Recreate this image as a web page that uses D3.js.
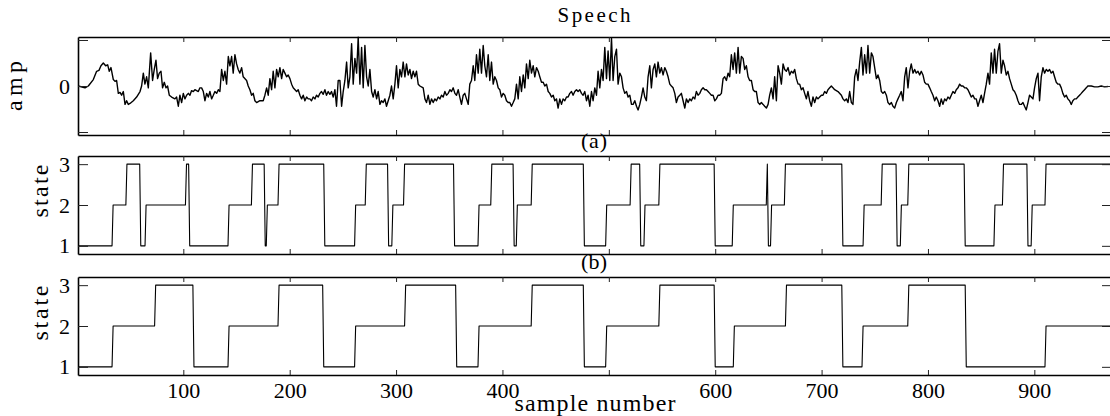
<!DOCTYPE html>
<html>
<head>
<meta charset="utf-8">
<script src="https://cdn.jsdelivr.net/npm/d3@7"></script>
<style>
  body { margin: 0; background: #fff; }
</style>
</head>
<body>
<svg id="chart" width="1110" height="416"></svg>
<script>
// speech waveform as [sample, amplitude]
var speech = [
  [1.3,0],[7.6,-0.04],[10.7,0],[15.4,0.14],[18.5,0.32],[20.7,0.34],[22.6,0.44],[24.8,0.5],[27,0.44],[28.9,0.46],
  [30.4,0.32],[32,0.4],[34.2,0.14],[35.8,0.1],[37.3,0.12],[38.9,-0.16],[40.5,-0.14],[42,-0.2],[43.6,-0.12],[45.2,-0.4],
  [46.7,-0.32],[48.3,-0.4],[49.9,-0.38],[53,-0.32],[56.1,-0.24],[59.3,-0.12],[60.8,0],[62.4,0.28],[63.9,0.04],[65.5,0.2],
  [67.1,-0.04],[69.3,0.72],[71.1,0.12],[72.7,0.36],[74.3,0.56],[75.8,0.16],[77.4,0.28],[79,0.32],[80.5,-0.04],[82.1,0.08],
  [83.7,-0.04],[85.2,0],[86.8,-0.2],[89,-0.24],[92.1,-0.28],[93.7,-0.24],[95.3,-0.44],[96.8,-0.2],[98.4,-0.36],[100,-0.16],
  [101.5,-0.28],[103.1,-0.2],[104.7,-0.16],[106.2,-0.2],[107.8,-0.1],[109.4,-0.12],[110.9,-0.08],[114.1,-0.12],[115.6,-0.04],[117.2,-0.04],
  [118.8,-0.12],[120.3,-0.32],[121.9,-0.16],[123.5,-0.24],[125,-0.12],[126.6,-0.28],[128.2,-0.2],[129.7,-0.12],[131.3,-0.16],[132.9,-0.08],
  [134.4,-0.12],[136,0.36],[137.6,0.12],[139.1,0.32],[140.7,0.04],[142.3,0.64],[143.8,0.44],[145.4,0.64],[146.9,0.28],[148.5,0.68],
  [150.1,0.48],[151.6,0.36],[153.2,0.28],[154.8,0.4],[156.3,0.2],[159.5,0.12],[161,0],[162.6,-0.08],[164.2,-0.2],[165.7,-0.16],
  [167.3,-0.32],[168.9,-0.36],[172,-0.32],[175.1,-0.32],[176.7,-0.2],[178.3,-0.04],[179.8,-0.2],[181.4,0.16],[183,-0.08],[184.5,0.32],
  [186.1,-0.04],[187.7,0.36],[189.2,0.2],[190.8,0.4],[192.4,0.16],[193.9,0.36],[195.5,0.28],[197.1,0.2],[198.6,0.24],[200.2,0.16],
  [201.8,0.04],[203.3,-0.04],[206.5,-0.12],[208,-0.08],[209.6,-0.2],[211.2,-0.28],[212.7,-0.2],[214.3,-0.32],[215.9,-0.24],[217.4,-0.28],
  [219,-0.28],[220.5,-0.32],[222.1,-0.24],[223.7,-0.28],[225.2,-0.2],[226.8,-0.24],[228.4,-0.16],[229.9,-0.12],[231.5,-0.18],[233.1,-0.08],
  [234.6,-0.2],[236.2,-0.12],[237.8,-0.18],[239.3,-0.12],[240.9,-0.24],[242.5,-0.08],[244,-0.44],[245.6,0.12],
  [247.2,0.12],[248.8,-0.44],[250.3,-0.12],[251.9,0.12],[253.5,0.52],[255,-0.04],[256.6,0.2],[258.2,0.92],[259.7,0.04],[261.3,0.6],
  [262.9,0.28],[264.4,1.06],[266,0.04],[267.6,0.84],[269.1,-0.04],[270.7,0.88],[272.3,0.2],[273.8,0],[275.4,0.36],[277,-0.12],
  [278.5,-0.24],[280.1,-0.08],[281.7,-0.28],[283.2,-0.12],[284.8,-0.4],[286.3,-0.32],[287.9,-0.36],[289.5,-0.28],[291,-0.44],[292.6,-0.32],
  [294.2,-0.2],[295.7,0],[297.3,-0.28],[298.9,0.04],[300.4,0.44],[302,-0.04],[303.6,0.36],[305.1,0.2],[306.7,0.52],[308.3,0.2],
  [309.8,0.48],[311.4,0.24],[313,0.36],[314.5,0.16],[316.1,0.32],[317.7,0.2],[319.2,0.32],[320.8,0.04],[322.4,0],[323.9,-0.02],
  [325.5,-0.04],[327.1,-0.28],[328.6,-0.36],[330.2,-0.2],[331.8,-0.4],[333.3,-0.28],[334.9,-0.36],[336.5,-0.28],[338,-0.32],[339.6,-0.24],
  [341.2,-0.28],[342.7,-0.2],[344.3,-0.24],[345.9,-0.12],[347.4,-0.2],[349,-0.16],[350.6,-0.08],[352.1,-0.12],[353.7,-0.04],[355.3,-0.16],
  [356.8,-0.2],[358.4,-0.08],[359.9,-0.24],[361.5,-0.4],[363.1,-0.2],[364.6,-0.16],[366.2,-0.28],[367.8,-0.4],[369.3,0.04],[370.9,0.12],
  [372.5,0.44],[374,0.12],[375.6,0.68],[377.2,0.28],[378.7,0.8],[380.3,0.28],[381.9,0.88],[383.4,0.44],[385,0.2],[386.6,0.68],
  [388.1,0.12],[389.7,0.52],[391.3,0.04],[392.8,0.2],[394.4,0.12],[396,-0.04],[397.5,-0.08],[399.1,-0.24],[400.7,-0.16],[402.2,-0.2],
  [403.8,-0.32],[405.4,-0.36],[406.9,-0.36],[408.5,-0.44],[410.1,-0.36],[411.6,-0.28],[413.2,0.04],[414.8,-0.28],[416.3,0.2],[417.9,-0.12],
  [419.5,0.24],[421,-0.04],[422.6,0.48],[424.2,0.16],[425.7,0.56],[427.3,0.28],[428.9,0.44],[430.4,0.2],[432,0.4],[433.6,0.32],
  [435.1,0.2],[436.7,0.08],[438.3,0.08],[439.8,0],[441.4,0.04],[443,-0.12],[444.5,-0.16],[446.1,-0.24],[447.7,-0.2],[449.2,-0.32],
  [450.8,-0.28],[452.3,-0.48],[453.9,-0.28],[455.5,-0.4],[457,-0.28],[458.6,-0.32],[460.2,-0.24],[461.7,-0.24],[463.3,-0.16],[464.9,-0.12],
  [466.4,-0.2],[468,-0.12],[469.6,-0.08],[471.1,-0.12],[472.7,-0.08],[474.3,-0.16],[475.8,-0.2],[477.4,-0.12],[479,-0.32],[480.5,-0.2],
  [482.1,-0.44],[483.7,-0.12],[485.2,-0.32],[486.8,-0.04],[488.4,-0.2],[489.9,0.32],
  [491.5,-0.04],[493.1,0.36],[494.6,0.12],[496.2,0.84],[497.8,0.16],[499.3,0.76],[500.9,0.12],[502.5,1.04],[504,0.12],[505.6,0.64],
  [507.2,0.8],[508.7,0.04],[510.3,0.28],[511.9,0.2],[513.4,-0.04],[515,-0.16],[516.6,-0.12],[518.1,-0.24],[519.7,-0.2],[521.3,-0.4],
  [522.8,-0.4],[524.4,-0.32],[526,-0.44],[527.5,-0.52],[529.1,-0.4],[530.6,-0.24],[532.2,-0.04],[533.8,-0.24],[535.3,-0.32],[536.9,0.2],
  [538.5,0.44],[540,-0.04],[541.6,0.36],[543.2,0.48],[544.7,0.2],[546.3,0.52],[547.9,0.28],[549.4,0.4],[551,0.24],[552.6,0.4],
  [554.1,0.32],[555.7,0.2],[557.3,0.04],[558.8,0],[560.4,-0.04],[562,-0.16],[563.5,-0.36],[565.1,-0.24],[566.7,-0.2],[568.2,-0.16],
  [569.8,-0.32],[571.4,-0.48],[572.9,-0.28],[574.5,-0.36],[576.1,-0.28],[577.6,-0.32],[579.2,-0.24],[580.8,-0.28],[582.3,-0.12],[583.9,-0.2],
  [585.5,-0.16],[587,-0.08],[588.6,-0.04],[590.2,-0.08],[591.7,-0.08],[593.3,-0.12],[594.9,-0.16],[596.4,-0.2],[598,-0.2],[599.6,-0.32],
  [601.1,-0.28],[602.7,-0.2],[604.2,-0.2],[605.8,-0.16],[607.4,0.16],[608.9,0.2],[610.5,0.12],[612.1,0.28],[613.6,0.2],[615.2,0.68],
  [616.8,0.36],[618.3,0.72],[619.9,0.28],[621.5,0.84],[623,0.28],[624.6,0.64],[626.2,0.6],[627.7,0.36],[629.3,0.44],[630.9,0.2],
  [632.4,0.12],[634,0.12],[635.6,-0.08],[637.1,-0.12],[638.7,-0.12],[640.3,-0.36],[641.8,-0.4],[643.4,-0.36],[645,-0.4],[646.5,-0.44],
  [648.1,-0.48],[649.7,-0.4],[651.2,-0.2],[652.8,-0.04],[654.4,-0.28],[655.9,0.2],[657.5,-0.32],[659.1,0.44],[660.6,0.28],[662.2,0.04],
  [663.8,0.48],[665.3,0.36],[666.9,0.32],[668.5,0.4],[670,0.24],[671.6,0.32],[673.2,0.28],[674.7,0.36],[676.3,0.16],[677.9,0.04],
  [679.4,0.04],[681,-0.08],[682.6,-0.04],[684.1,-0.16],[685.7,-0.28],[687.2,-0.12],[688.8,-0.32],[690.4,-0.44],[691.9,-0.24],[693.5,-0.36],
  [695.1,-0.24],[696.6,-0.28],[698.2,-0.24],[699.8,-0.2],[701.3,-0.2],[702.9,-0.12],[704.5,-0.16],[706,-0.08],[707.6,-0.04],[709.2,0],
  [710.7,-0.04],[712.3,-0.08],[715.4,-0.12],[718.6,-0.2],[720.1,-0.28],[721.7,-0.32],[723.3,-0.28],[724.8,-0.36],[726.4,-0.12],[728,-0.36],
  [729.5,-0.4],[731.1,0.2],[732.7,0.36],[734.2,0.12],
  [735.8,0.52],[737.4,0.84],[738.9,0.24],[740.5,0.68],[742.1,0.28],[743.6,0.88],[745.2,0.28],[746.8,0.72],[748.3,0.64],[749.9,0.4],
  [751.5,0.16],[753,0.24],[754.6,0.12],[756.2,-0.12],[757.7,-0.16],[759.3,-0.12],[760.9,-0.2],[762.4,-0.36],[764,-0.4],[765.6,-0.36],
  [767.1,-0.44],[768.7,-0.48],[770.3,-0.36],[771.8,-0.28],[773.4,-0.2],[774.9,-0.12],[776.5,-0.32],[778.1,0.2],[779.6,0.4],[781.2,-0.04],
  [782.8,0.32],[784.3,0.48],[785.9,0.28],[787.5,0.36],[789,0.28],[790.6,0.32],[792.2,0.24],[793.7,0.32],[795.3,0.24],[796.9,0.08],
  [798.4,0.04],[800,0.04],[801.6,-0.04],[803.1,-0.12],[804.7,-0.2],[806.3,-0.32],[807.8,-0.24],[809.4,-0.32],[811,-0.44],[812.5,-0.28],
  [814.1,-0.4],[815.7,-0.28],[817.2,-0.32],[818.8,-0.24],[820.4,-0.28],[821.9,-0.2],[823.5,-0.12],[825.1,-0.16],[826.6,-0.08],[828.2,-0.04],
  [829.8,0.04],[831.3,0],[832.9,0],[834.5,-0.04],[836,-0.04],[837.6,-0.08],[839.2,-0.16],[840.7,-0.24],[842.3,-0.2],[843.9,-0.28],
  [845.4,-0.28],[847,-0.44],[848.5,-0.32],[850.1,-0.2],[851.7,-0.36],[853.2,-0.16],[854.8,0.04],[856.4,0.28],[857.9,0.04],[859.5,0.72],
  [861.1,0.28],[862.6,0.8],[864.2,0.28],[865.8,0.76],[867.3,0.92],[868.9,0.28],[870.5,0.56],[872,0.44],[873.6,0.24],[875.2,0.32],
  [876.7,0.16],[878.3,0.04],[879.9,-0.08],[881.4,-0.12],[883,-0.2],[884.6,-0.32],[886.1,-0.4],[887.7,-0.4],[889.3,-0.36],[890.8,-0.44],
  [892.4,-0.52],[894,-0.36],[895.5,-0.2],[897.1,-0.24],[898.7,-0.28],[900.2,-0.04],[901.8,0.16],[903.4,0.28],[904.9,-0.32],[906.5,0.2],
  [908.1,0.4],[909.6,0.28],[911.2,0.36],[912.8,0.32],[914.3,0.36],[915.9,0.28],[917.5,0.32],[919,0.2],[920.6,0.08],[922.2,0.04],
  [923.7,0.04],[925.3,-0.04],[926.8,-0.16],[928.4,-0.24],[930,-0.2],[931.5,-0.28],[933.1,-0.32],[934.7,-0.4],[936.2,-0.32],[937.8,-0.28],
  [939.4,-0.28],[940.9,-0.24],[942.5,-0.2],[944.1,-0.16],[945.6,-0.12],[947.2,-0.08],[948.8,-0.04],[950.3,0],[951.9,0],[953.5,0],
  [956.6,-0.02],[959.7,-0.02],[962.9,0],[966,-0.02],[969.1,-0.01]
];

// state sequences as runs: state of each run and the last sample of that run
var statesB = [1,2,3, 1,2,3, 1,2,3, 1,2,3, 1,2,3, 1,2,3, 1,2,3, 1,2,3, 1,2,3, 1,2,3, 1,2,3, 1,2,3, 1,2,3, 1,2,3, 1,2,3, 1,2,3];
var endsB = [33,46,59, 64,102,105, 142,164,176, 178,189,232, 261,271,292, 296,307,354, 377,389,410, 413,427,476,
             497,520,529, 533,547,599, 616,648,649, 652,665,719, 739,756,770, 774,781,834, 862,870,893, 897,910,973];

var statesC = [1,2,3, 1,2,3, 1,2,3, 1,2,3, 1,2,3, 1,2,3, 1,2,3, 1,2];
var endsC = [33,73,109, 142,189,231, 261,308,356, 377,427,476, 497,547,599, 617,666,719, 738,781,835, 910,973];

var sampleDomain = [1, 973];
var sampleTicks = [100, 200, 300, 400, 500, 600, 700, 800, 900];
var sampleTickLabels = ["100", "200", "300", "400", "", "600", "700", "800", "900"];
var ampTicks = [-1, 0, 1];
var ampTickLabels = ["", "0", ""];
var stateTicks = [1, 2, 3];
var stateTickLabels = ["1", "2", "3"];

var FONT = "'Liberation Serif'";

var svg = d3.select("#chart");

var left = 78,
    right = 1112;

var x = d3.scaleLinear().domain(sampleDomain).range([left, right]);

function runsToPoints(states, ends) {
  var pts = [], start = sampleDomain[0];
  states.forEach(function (s, i) {
    pts.push([start, s]);
    pts.push([ends[i], s]);
    start = ends[i] + 1;
  });
  return pts;
}

function panel(top, bottom, yDomain, yTicks, yLabels, points, lineWidth, showX) {
  var y = d3.scaleLinear().domain(yDomain).range([bottom, top]);
  var g = svg.append("g");

  var line = d3.line()
      .x(function (d) { return x(d[0]); })
      .y(function (d) { return y(d[1]); });

  g.append("path")
      .datum(points)
      .attr("d", line)
      .attr("fill", "none")
      .attr("stroke", "#000")
      .attr("stroke-width", lineWidth)
      .attr("stroke-linejoin", "round");

  var yl = d3.axisLeft(y).tickValues(yTicks).tickSizeInner(-10).tickSizeOuter(0).tickPadding(8)
      .tickFormat(function (d, i) { return yLabels[i]; });
  var yr = d3.axisRight(y).tickValues(yTicks).tickSizeInner(-10).tickSizeOuter(0).tickFormat("");
  var xt = d3.axisTop(x).tickValues(sampleTicks).tickSizeInner(-5).tickSizeOuter(0).tickFormat("");
  var xb = d3.axisBottom(x).tickValues(sampleTicks).tickSizeInner(-5).tickSizeOuter(0).tickPadding(7)
      .tickFormat(function (d, i) { return showX ? sampleTickLabels[i] : ""; });

  var axes = [
    g.append("g").attr("transform", "translate(" + left + ",0)").call(yl),
    g.append("g").attr("transform", "translate(" + right + ",0)").call(yr),
    g.append("g").attr("transform", "translate(0," + top + ")").call(xt),
    g.append("g").attr("transform", "translate(0," + bottom + ")").call(xb)
  ];
  axes.forEach(function (a) {
    a.selectAll(".domain").attr("stroke", "#000").attr("stroke-width", 1.6);
    a.selectAll(".tick line").attr("stroke", "#222").attr("stroke-width", 1);
    a.selectAll("text")
        .style("font-family", FONT)
        .style("font-size", "22px")
        .attr("fill", "#000");
  });
  return y;
}

panel(37, 135, [-1.065, 1.065], ampTicks, ampTickLabels, speech, 1.4, false);
panel(156, 254, [0.8, 3.2], stateTicks, stateTickLabels, runsToPoints(statesB, endsB), 1.1, false);
panel(277, 375, [0.8, 3.2], stateTicks, stateTickLabels, runsToPoints(statesC, endsC), 1.1, true);

function label(txt, px, py, size, len, rotate) {
  var t = svg.append("text")
      .style("font-family", FONT)
      .style("font-size", size + "px")
      .attr("text-anchor", "middle")
      .attr("textLength", len)
      .attr("lengthAdjust", "spacing")
      .attr("fill", "#000")
      .text(txt);
  if (rotate) t.attr("transform", "translate(" + px + "," + py + ") rotate(-90)");
  else t.attr("x", px).attr("y", py);
}

label("Speech", 594, 22, 21, 73, false);
label("(a)", 594, 148, 22, 26, false);
label("(b)", 594, 269, 22, 26, false);
label("sample number", 595, 411, 24, 161, false);
label("amp", 22, 86, 24, 50, true);
label("state", 48, 191, 24, 53, true);
label("state", 48, 313, 24, 55, true);
</script>
</body>
</html>
